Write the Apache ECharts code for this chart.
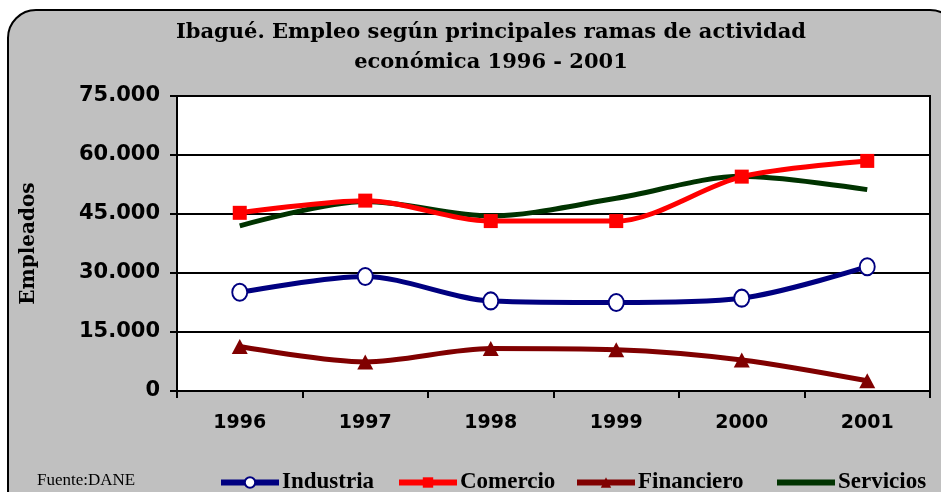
<!DOCTYPE html>
<html><head><meta charset="utf-8">
<script src="https://cdn.jsdelivr.net/npm/echarts@6/dist/echarts.min.js"></script>
<style>html,body{margin:0;padding:0;background:#fff}#c{width:941px;height:492px}</style>
</head><body><div id="c"></div>
<script>
const years = ['1996','1997','1998','1999','2000','2001'];
const industria = [25100, 29100, 22900, 22500, 23600, 31600];
const comercio = [45300, 48400, 43200, 43200, 54500, 58500];
const financiero = [11300, 7400, 10800, 10500, 7900, 2600];
const servicios = [42000, 48200, 44500, 49000, 54600, 51200];
const seriesNames = ['Industria','Comercio','Financiero','Servicios'];

const chart = echarts.init(document.getElementById('c'));
const serif = '"DejaVu Serif", serif';
const times = '"Liberation Serif", serif';
const sans = '"DejaVu Sans", sans-serif';
function fmt(v){ return v === 0 ? '0' : (v/1000).toFixed(0) + '.000'; }
const legendLefts = [213, 391, 569, 769];
const legends = seriesNames.map((n, i) => ({
  top: 466, left: legendLefts[i], itemWidth: 58, itemHeight: 13,
  lineStyle: {width: 6},
  textStyle: {fontFamily: times, fontWeight: 'bold', fontSize: 23, color: '#000', padding: [0,0,0,-2]},
  data: [i === 3 ? {name: n, itemStyle:{color:'rgba(0,0,0,0)', borderColor:'rgba(0,0,0,0)', borderWidth:0}} : n]
}));
chart.setOption({
  animation: false,
  backgroundColor: '#fff',
  graphic: [
    {type:'rect', z:-10, shape:{x:8,y:10,width:950,height:510,r:28}, style:{fill:'#c0c0c0',stroke:'#000',lineWidth:2}},
    {type:'text', left:37, top:472, style:{text:'Fuente:DANE', font:'17px "Liberation Serif", serif', fill:'#000'}}
  ],
  title: {
    text: 'Ibagué. Empleo según principales ramas de actividad\neconómica 1996 - 2001',
    left: 486, textAlign: 'center', top: 13,
    textStyle: {fontFamily: serif, fontWeight: 'bold', fontSize: 21, lineHeight: 30, color: '#000'}
  },
  grid: {left: 177, right: 11, top: 96, bottom: 101, show: true, backgroundColor: '#fff', borderColor: '#000', borderWidth: 2, containLabel: false},
  legend: legends,
  xAxis: {
    type: 'category', data: years, boundaryGap: true,
    axisLine: {lineStyle:{color:'#000', width:2}},
    axisTick: {show:true, length:7, lineStyle:{color:'#000', width:2}},
    axisLabel: {fontFamily: sans, fontWeight:'bold', fontSize: 19, color:'#000', margin: 23}
  },
  yAxis: {
    type: 'value', min: 0, max: 75000, interval: 15000,
    name: 'Empleados', nameLocation: 'middle', nameGap: 138, nameRotate: 90,
    nameTextStyle: {fontFamily: serif, fontWeight: 'bold', fontSize: 20, color: '#000'},
    axisLine: {show:true, lineStyle:{color:'#000', width:2}},
    axisTick: {show:true, length:7, lineStyle:{color:'#000', width:2}},
    splitLine: {show:true, lineStyle:{color:'#000', width:2}},
    axisLabel: {fontFamily: sans, fontWeight:'bold', fontSize: 21, color:'#000', margin: 17, formatter: fmt}
  },
  series: [
    {name:seriesNames[0], type:'line', data: industria, smooth: 0.3, lineStyle:{width:5,color:'#000080'}, itemStyle:{color:'#fff', borderColor:'#000080', borderWidth:2}, symbol:'circle', symbolSize:[15,17], z:3},
    {name:seriesNames[1], type:'line', data: comercio, smooth: 0.3, lineStyle:{width:5,color:'#ff0000'}, itemStyle:{color:'#ff0000'}, symbol:'rect', symbolSize:14, z:3},
    {name:seriesNames[2], type:'line', data: financiero, smooth: 0.3, lineStyle:{width:5,color:'#800000'}, itemStyle:{color:'#800000'}, symbol:'triangle', symbolSize:[16,15], z:3},
    {name:seriesNames[3], type:'line', data: servicios, smooth: 0.3, lineStyle:{width:5,color:'#003300'}, itemStyle:{color:'#003300'}, symbol:'none', z:2}
  ]
});
</script></body></html>
